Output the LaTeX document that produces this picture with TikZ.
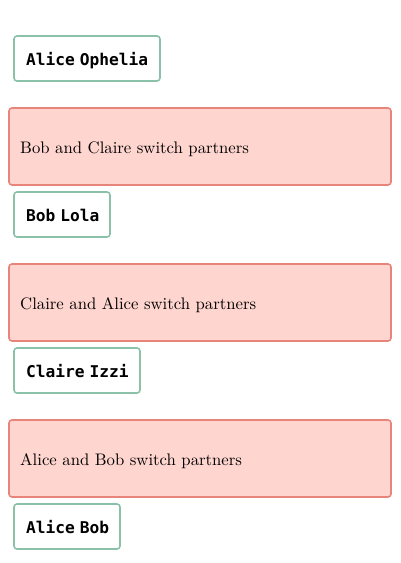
\documentclass[tikz,border=0pt]{standalone}
\usepackage{fontspec}
\newfontfamily\monob{DejaVu Sans Mono}
\newfontfamily\serifx{lmroman10-regular}[Extension=.otf]
\newcommand{\wsp}{\hspace{0.3em}}
\definecolor{grn}{HTML}{8BC1A9}
\definecolor{redstroke}{HTML}{E8857A}
\definecolor{redfill}{HTML}{FFD5CF}
\begin{document}
\begin{tikzpicture}[x=1pt,y=-1pt,
  statebox/.style={draw=grn,line width=1.6pt,rounded corners=3pt,fill=white},
  stepbox/.style={draw=redstroke,fill=redfill,line width=1.6pt,rounded corners=3pt},
  monolbl/.style={font=\monob\bfseries\fontsize{16.2}{18}\selectfont,anchor=base west,inner sep=0pt},
  steplbl/.style={font=\serifx\fontsize{16.7}{20}\selectfont,anchor=base west,inner sep=0pt}]
\useasboundingbox (0,0) rectangle (400,563);
% state boxes
\draw[statebox] (14,36) rectangle (160,81);
\node[monolbl] (s1) at (26,65) {Alice\wsp Ophelia};
\draw[statebox] (14,192) rectangle (110,237);
\node[monolbl] (s2) at (26,221) {Bob\wsp Lola};
\draw[statebox] (14,348) rectangle (140,393);
\node[monolbl] (s3) at (26,377) {Claire\wsp Izzi};
\draw[statebox] (14,504) rectangle (120,549);
\node[monolbl] (s4) at (26,533) {Alice\wsp Bob};
% step boxes
\draw[stepbox] (9,108) rectangle (391,185);
\node[steplbl] (t1) at (20,153) {Bob and Claire switch partners};
\draw[stepbox] (9,264) rectangle (391,341);
\node[steplbl] (t2) at (20,309) {Claire and Alice switch partners};
\draw[stepbox] (9,420) rectangle (391,497);
\node[steplbl] (t3) at (20,465) {Alice and Bob switch partners};
\end{tikzpicture}
\end{document}
